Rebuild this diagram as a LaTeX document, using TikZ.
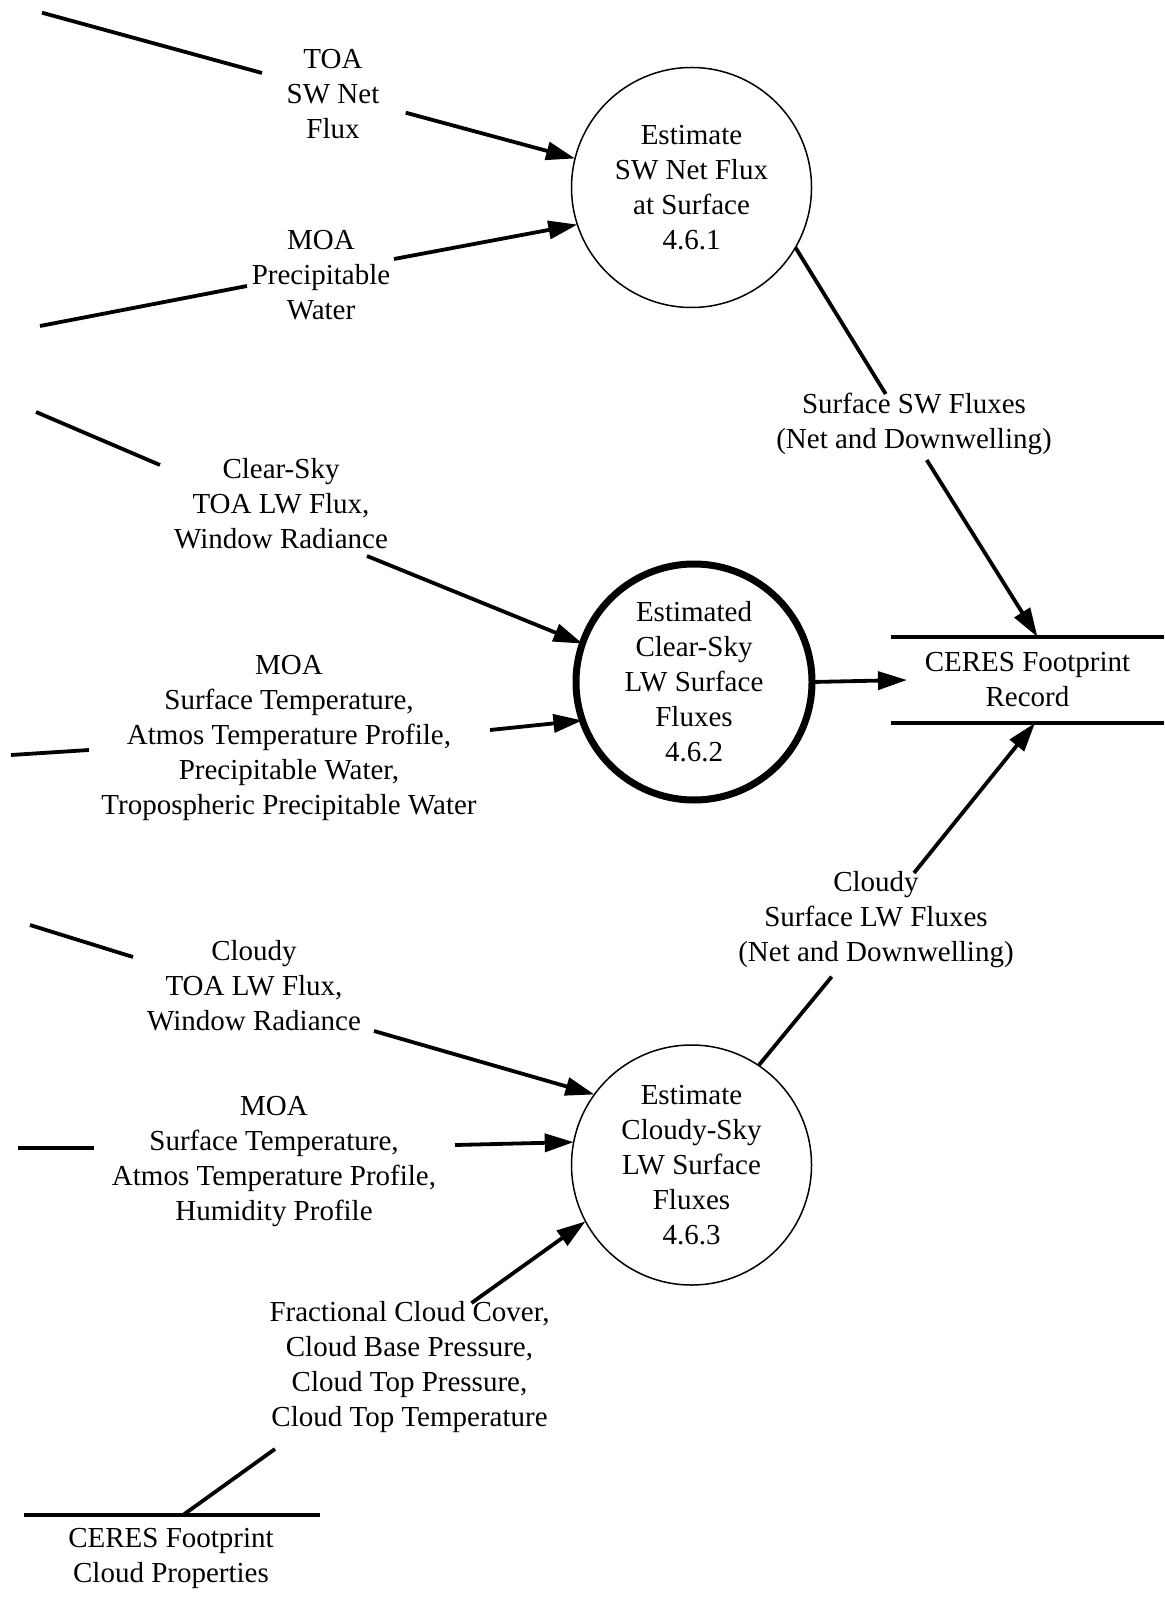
\documentclass[tikz,border=0pt]{standalone}
\usepackage{fontspec}
\setmainfont{Liberation Serif}
\usetikzlibrary{arrows.meta}
\begin{document}
\begin{tikzpicture}[x=0.5pt,y=-0.5pt,
  every node/.style={font=\fontsize{14.5}{17.5}\selectfont, align=center, inner sep=0pt, outer sep=0pt},
  proc/.style={circle, draw, line width=0.75pt, minimum size=120pt},
  procbold/.style={circle, draw, line width=3.5pt, minimum size=118pt},
  flow/.style={line width=1.9pt},
  arr/.style={flow, -{Triangle[length=14.5pt,width=9pt]}},
  storeline/.style={line width=1.9pt}]
\useasboundingbox (0,0) rectangle (1164,1598);

% processes
\node[proc] (p1) at (691.5,187.5) {Estimate\\SW Net Flux\\at Surface\\4.6.1};
\node[procbold] (p2) at (694,682) {Estimated\\Clear-Sky\\LW Surface\\Fluxes\\4.6.2};
\node[proc] (p3) at (691.5,1165) {Estimate\\Cloudy-Sky\\LW Surface\\Fluxes\\4.6.3};

% stores
\node[minimum width=136.5pt, minimum height=43pt] (rec) at (1027.5,680) {CERES Footprint\\Record};
\draw[storeline] (rec.north west) -- (rec.north east);
\draw[storeline] (rec.south west) -- (rec.south east);

\node (cfp) at (171,1558) {CERES Footprint\\Cloud Properties};
\draw[storeline] (24,1515) -- (320,1515);

% flow labels
\node (la) at (333,94) {TOA\\SW Net\\Flux};
\node (lb) at (321,275) {MOA\\Precipitable\\Water};
\node (lc) at (281,503.5) {Clear-Sky\\TOA LW Flux,\\Window Radiance};
\node (ld) at (289,738) {MOA\\Surface Temperature,\\Atmos Temperature Profile,\\Precipitable Water,\\Tropospheric Precipitable Water};
\node (le) at (254,986) {Cloudy\\TOA LW Flux,\\Window Radiance};
\node (lf) at (274,1161.5) {MOA\\Surface Temperature,\\Atmos Temperature Profile,\\Humidity Profile};
\node (lg) at (409.5,1367.5) {Fractional Cloud Cover,\\Cloud Base Pressure,\\Cloud Top Pressure,\\Cloud Top Temperature};
\node (lh) at (914,423.5) {Surface SW Fluxes\\(Net and Downwelling)};
\node (lj) at (876,920) {Cloudy\\Surface LW Fluxes\\(Net and Downwelling)};

% coordinates
\coordinate (a0) at (42,12.7);  \coordinate (a1) at (262,73);   \coordinate (a2) at (405.7,112.7);
\coordinate (b0) at (40,326);   \coordinate (b1) at (247,286);  \coordinate (b2) at (394,259);
\coordinate (c0) at (36,412);   \coordinate (c1) at (160,465);  \coordinate (c2) at (367,556);
\coordinate (d0) at (11,755);   \coordinate (d1) at (89,750);   \coordinate (d2) at (490,730);
\coordinate (e0) at (30,925);   \coordinate (e1) at (133,957);  \coordinate (e2) at (374,1031);
\coordinate (f0) at (18,1148);  \coordinate (f1) at (94,1148);  \coordinate (f2) at (455,1145);
\coordinate (g0) at (183,1515); \coordinate (g1) at (275,1449); \coordinate (g2) at (471.5,1303);
\coordinate (h1) at (885.7,394); \coordinate (h2) at (926.7,460);
\coordinate (j1) at (831.7,976.7); \coordinate (j2) at (914,873);

% input flows
\draw[flow] (a0) -- (a1); \draw[arr] (a2) -- (p1.166.4);
\draw[flow] (b0) -- (b1); \draw[arr] (b2) -- (p1.198.9);
\draw[flow] (c0) -- (c1); \draw[arr] (c2) -- (p2.161.6);
\draw[flow] (d0) -- (d1); \draw[arr] (d2) -- (p2.199.7);
\draw[flow] (e0) -- (e1); \draw[arr] (e2) -- (p3.144.4);
\draw[flow] (f0) -- (f1); \draw[arr] (f2) -- (p3.169.6);
\draw[flow] (g0) -- (g1); \draw[arr] (g2) -- (p3.208.3);

% output flows
\draw[flow] (p1.-30.3) -- (h1); \draw[arr] (h2) -- ([xshift=5pt]rec.north);
\draw[arr] (p2.east) -- ([xshift=8pt]rec.west);
\draw[flow] (p3.56) -- (j1); \draw[arr] (j2) -- ([xshift=3.75pt]rec.south);
\end{tikzpicture}
\end{document}
